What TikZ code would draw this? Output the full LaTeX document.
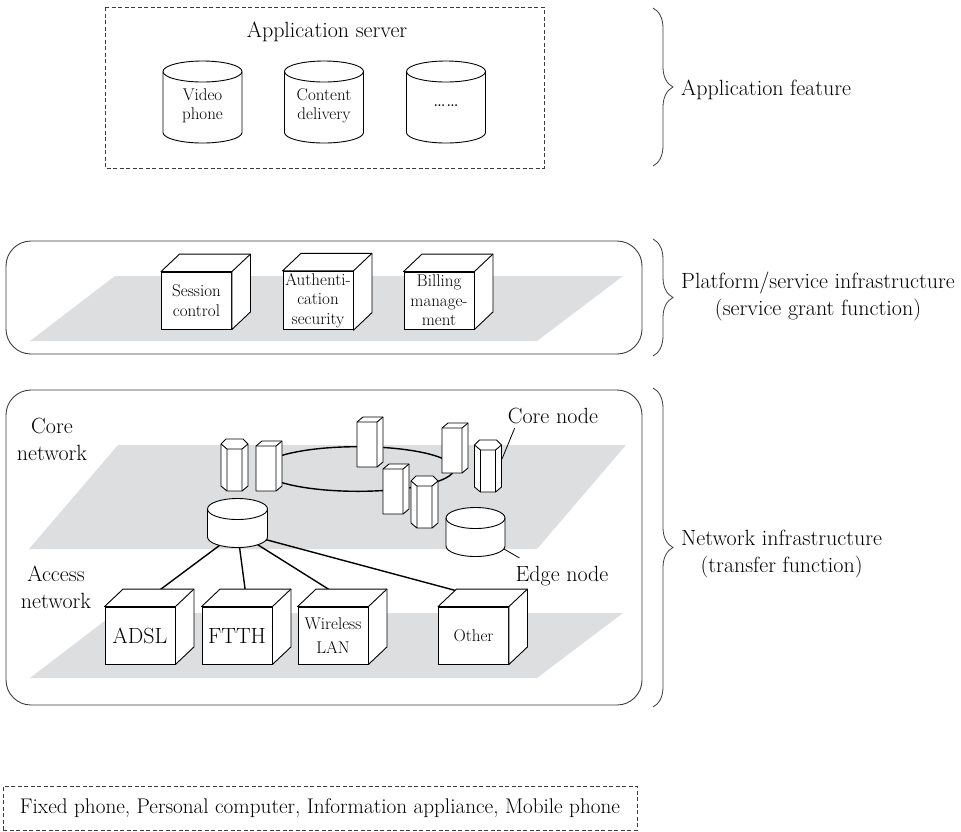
\documentclass[tikz,border=0pt]{standalone}
\usepackage{fontspec}
\usepackage{tikz}
\usetikzlibrary{calc,decorations.pathreplacing}

\pgfdeclarelayer{bg}
\pgfdeclarelayer{wires}
\pgfsetlayers{bg,wires,main}

\definecolor{planegray}{RGB}{221,222,224}
\definecolor{framegray}{RGB}{60,60,60}

\tikzset{
	bigtext/.style={font=\fontsize{22}{27}\selectfont, align=center, inner sep=2pt},
	smalltext/.style={font=\fontsize{17}{19.5}\selectfont, align=center, inner sep=2pt},
	cubeface/.style={draw, fill=white, line width=0.9pt, inner sep=0pt},
	solid3d/.style={draw, fill=white, line width=0.9pt, line join=round},
	edge3d/.style={draw, line width=0.9pt},
	plane/.style={fill=planegray},
	layerbox/.style={draw=framegray, line width=0.9pt, rounded corners=25pt},
	dashbox/.style={draw=framegray, line width=0.7pt, dash pattern=on 4pt off 2.5pt},
	link/.style={line width=1.4pt},
	pointer/.style={line width=0.8pt},
	layerbrace/.style={decorate, decoration={brace, amplitude=20pt}, draw=framegray, line width=0.8pt},
}

% cube: front face is the node, top and right faces drawn around it
\newcommand{\boxunit}[5]{%
	\node[cubeface, minimum width=70pt, minimum height=57pt, #4] (#1) at (#2,#3) {#5};
	\draw[solid3d] (#1.north west) -- ++(18.5,-17.5) -| ($(#1.south east)+(18.5,-17.5)$) -- (#1.south east) -- (#1.north east) -- cycle;
	\draw[edge3d] (#1.north east) -- ++(18.5,-17.5);
	\coordinate (#1-top) at ($(#1.north)+(9.25,-8.75)$);
}

% drum: x, y = middle of the body, #4 width, #5 distance between the two rims
\newcommand{\drum}[6]{%
	\draw[solid3d] (#2,#3) ++(-#4/2,-#5/2) -- ++(0,#5) arc[start angle=180, end angle=360, x radius=#4pt/2, y radius=10.5pt] -- ++(0,-#5) arc[start angle=0, end angle=180, x radius=#4pt/2, y radius=10.5pt] -- cycle;
	\draw[edge3d] (#2,#3) ++(-#4/2,-#5/2) arc[start angle=180, end angle=360, x radius=#4pt/2, y radius=10.5pt];
	\node[smalltext, inner sep=0pt, yshift=-4pt] (#1) at (#2,#3) {#6};
}

% square tower, front top-left corner
\newcommand{\tower}[2]{%
	\draw[solid3d] (#1,#2) -- ++(6,-5) -- ++(20,0) -- ++(0,45) -- ++(-6,5) -- ++(-20,0) -- cycle;
	\draw[edge3d] (#1,#2) -- ++(20,0) -- ++(6,-5) ++(-6,5) -- ++(0,45);
}

% hexagonal column, top centre
\newcommand{\hexcol}[2]{%
	\begin{scope}[shift={(#1,#2)}]
		\draw[solid3d] (-13.5,5) -- (-8.5,0) -- (8.5,0) -- (13.5,5) -- (13.5,47) -- (7.5,52) -- (-7.5,52) -- (-13.5,47) -- cycle;
		\draw[edge3d] (-13.5,5) -- (-7.5,10) -- (7.5,10) -- (13.5,5) (-7.5,10) -- (-7.5,52) (7.5,10) -- (7.5,52);
	\end{scope}
}

\begin{document}
\begin{tikzpicture}[x=1pt, y=-1pt]
	%%%%% START %%%%%
	\useasboundingbox (0,0) rectangle (961,831);
	
	% applications
	\draw[dashbox] (105,7) rectangle (544,168);
	\node[bigtext] (appsrv) at (327,32) {Application server};
	\drum{vphone}{202.5}{102}{79}{61}{Video\\phone}
	\drum{cdeliv}{324}{102}{79}{61}{Content\\delivery}
	\drum{moreapp}{446}{102}{79}{61}{\fontsize{22}{27}\selectfont\ldots\ldots}
	
	% platform
	\draw[layerbox] (6,241) rectangle (642,354);
	\begin{pgfonlayer}{bg}
		\fill[plane] (30,341) -- (115,276) -- (623,276) -- (537,341) -- cycle;
	\end{pgfonlayer}
	\boxunit{session}{196.5}{300.5}{smalltext}{Session\\control}
	\boxunit{authsec}{318}{300.5}{smalltext}{Authenti-\\cation\\security}
	\boxunit{billing}{439}{300.5}{smalltext}{Billing\\manage-\\ment}
	
	% network
	\draw[layerbox] (6,390) rectangle (642,705);
	\begin{pgfonlayer}{bg}
		\fill[plane] (29,549) -- (118,445) -- (626,445) -- (537,549) -- cycle;
		\fill[plane] (30,678) -- (115,613) -- (623,613) -- (537,678) -- cycle;
	\end{pgfonlayer}
	\node[bigtext] (corenet) at (52,439) {Core\\network};
	\node[bigtext] (accnet) at (56,587) {Access\\network};
	
	\draw[link] (358,469) ellipse [x radius=96pt, y radius=22.3pt];
	\tower{357}{422}
	\tower{442}{428}
	\hexcol{234.5}{439}
	\hexcol{488}{440}
	\tower{256}{446}
	\tower{383}{469}
	\hexcol{424.5}{476}
	
	\drum{edgeL}{237.5}{523}{60}{28}{}
	\drum{edgeR}{475.5}{532}{59}{28}{}
	
	\boxunit{adsl}{140}{635.5}{bigtext}{ADSL}
	\boxunit{ftth}{237}{635.5}{bigtext}{FTTH}
	\boxunit{wlan}{333}{635.5}{smalltext}{Wireless\\[5pt]LAN}
	\boxunit{other}{473.5}{635.5}{smalltext}{Other}
	
	\coordinate (hub) at ($(edgeL)+(0,5)$);
	\begin{pgfonlayer}{wires}
		\foreach \dst in {adsl,ftth,wlan,other}
			\draw[link] (hub) -- (\dst-top);
	\end{pgfonlayer}
	
	\node[bigtext] (corelbl) at (553,416) {Core node};
	\coordinate (coretip) at (502,459);
	\draw[pointer] (coretip) -- ([xshift=9pt,yshift=-2pt]corelbl.south west);
	\node[bigtext] (edgelbl) at (562,576) {Edge node};
	\coordinate (edgetip) at (504,549);
	\draw[pointer] (edgetip) -- ([xshift=6pt,yshift=6pt]edgelbl.north west);
	
	% braces on the right
	\draw[layerbrace] (653,8) -- (653,166);
	\node[bigtext, anchor=west] (appfeat) at (679,90) {Application feature};
	\draw[layerbrace] (653,239) -- (653,356);
	\node[bigtext, anchor=west] (platfeat) at (679,297) {Platform/service infrastructure\\(service grant function)};
	\draw[layerbrace] (653,388) -- (653,707);
	\node[bigtext, anchor=west] (netfeat) at (679,554) {Network infrastructure\\(transfer function)};
	
	% terminals
	\node[dashbox, font=\fontsize{21.2}{24}\selectfont, minimum width=634pt, minimum height=44pt] (devices) at (320,808) {Fixed phone, Personal computer, Information appliance, Mobile phone};
	
	%%%%% END %%%%%
\end{tikzpicture}
\end{document}
